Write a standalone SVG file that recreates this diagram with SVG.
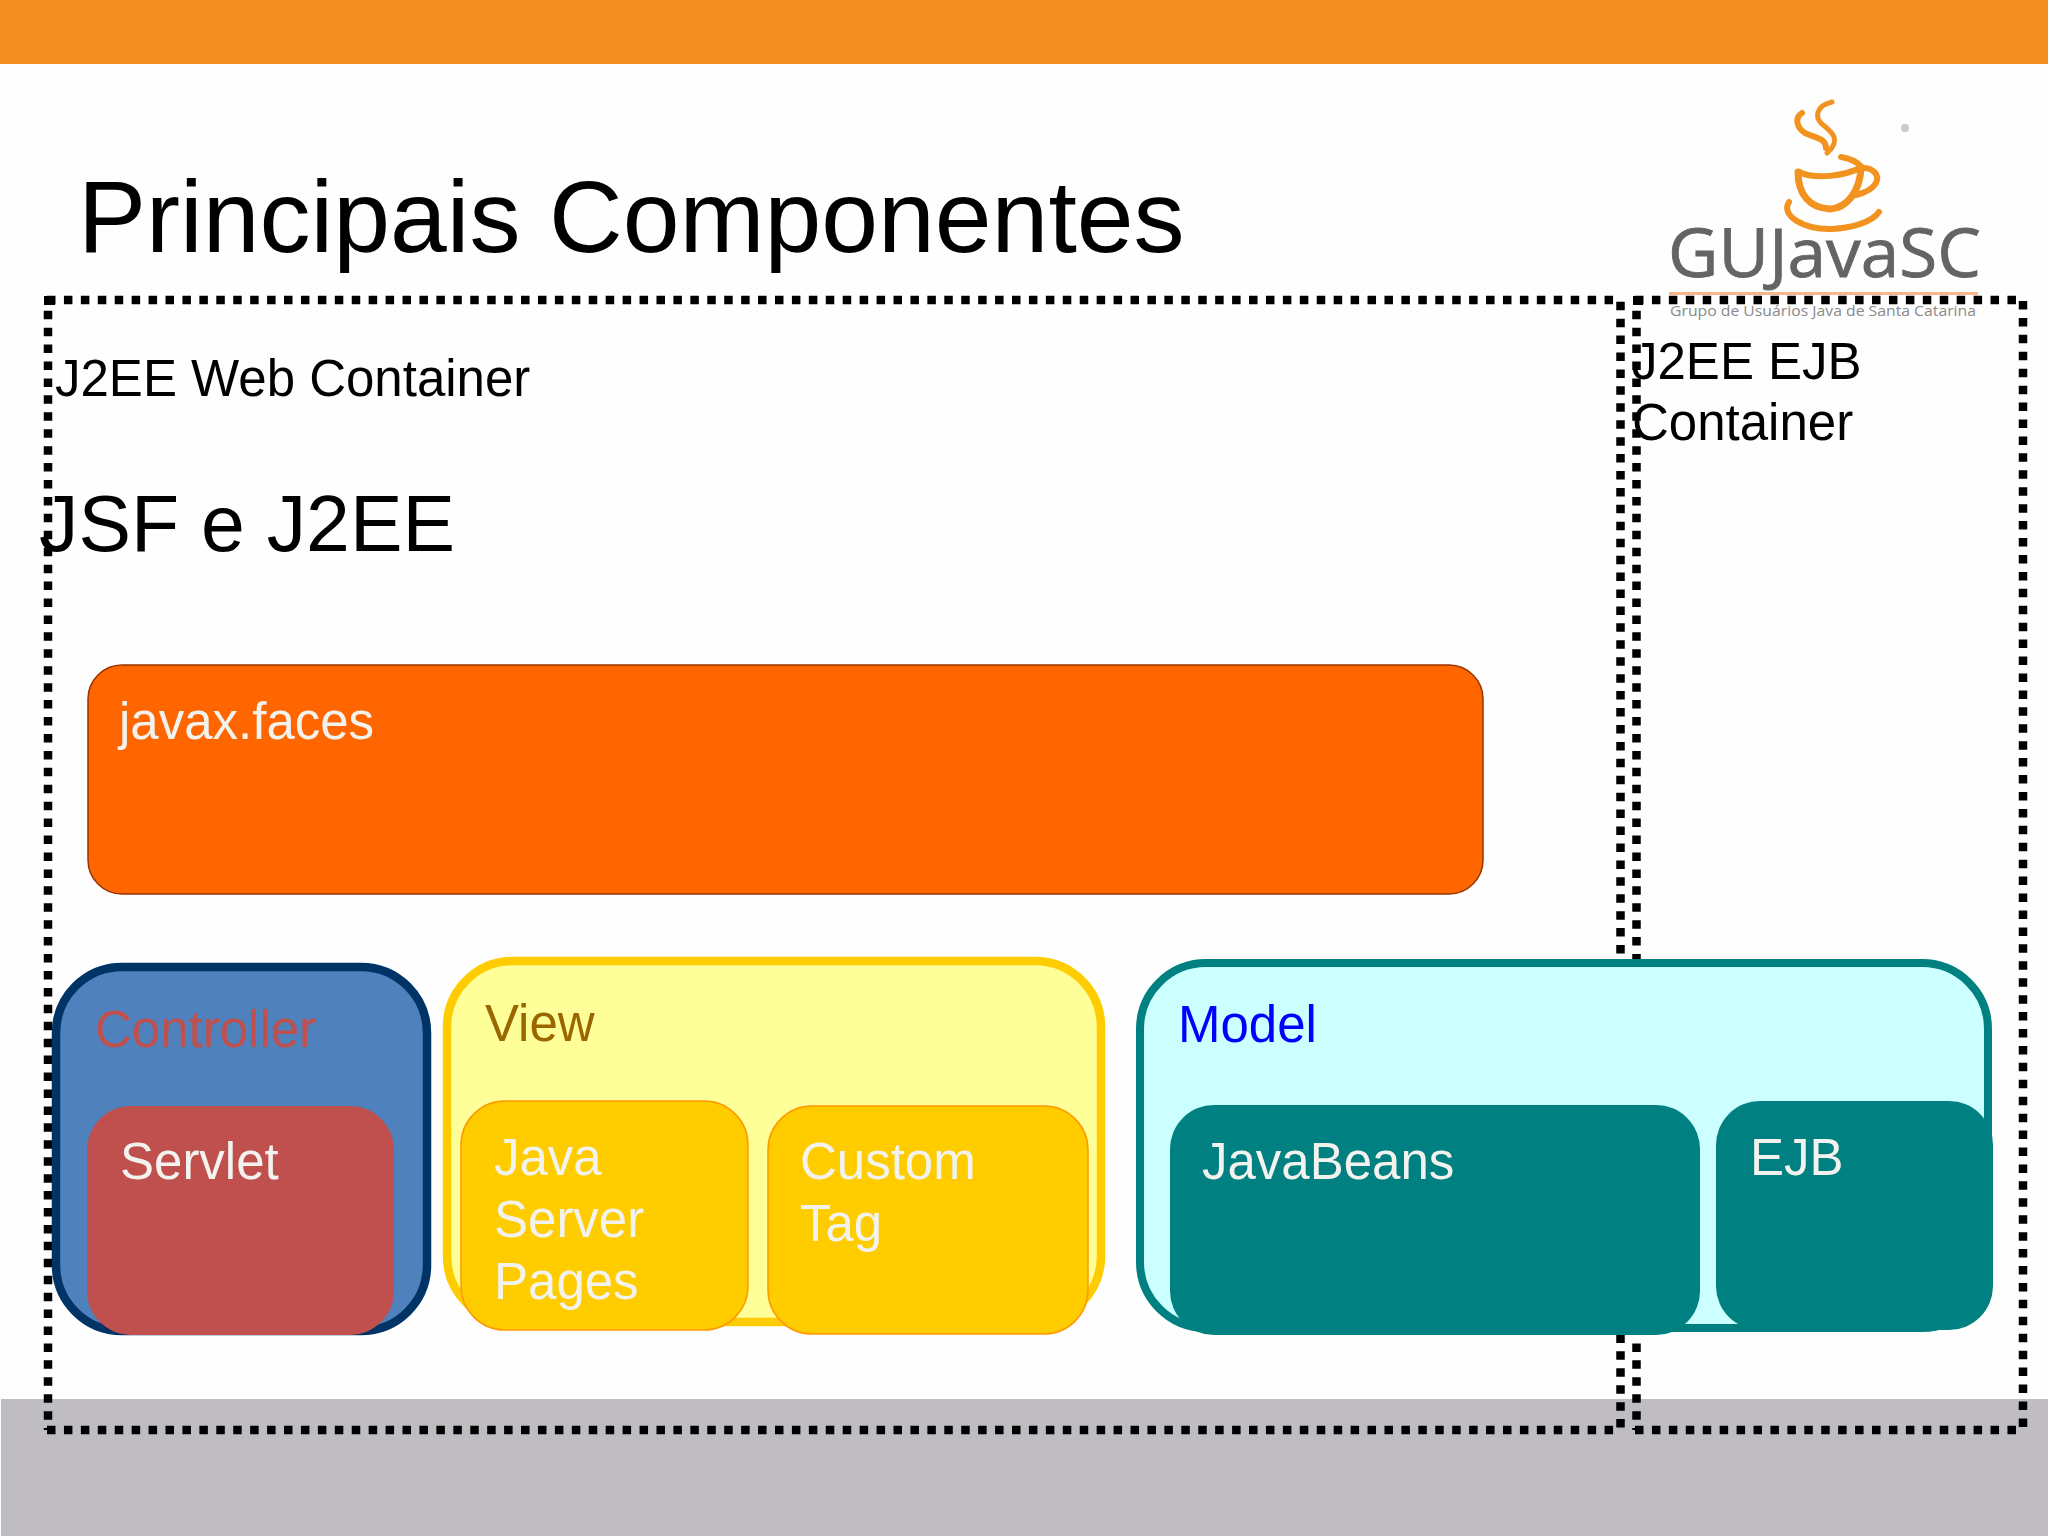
<svg xmlns="http://www.w3.org/2000/svg" width="2048" height="1536" viewBox="0 0 2048 1536">
<style>
text{font-family:"Liberation Sans",Arial,sans-serif}
.d{fill:none;stroke:#000;stroke-width:8.5;stroke-dasharray:8.5 8.43}
.l{font-size:51px;fill:#F2F2EE}
.h{font-size:51px;fill:#000}
.c{fill:none;stroke:#F2921F;stroke-linecap:round;stroke-linejoin:round}
</style>
<rect width="2048" height="1536" fill="#fefefe"/>
<rect id="top-bar" width="2048" height="64" fill="#F18D21"/>
<rect id="footer" x="1" y="1399" width="2047" height="137" fill="#BFBDC1"/>
<text id="title" x="78" y="252" font-size="102.1" fill="#000">Principais Componentes</text>
<g id="logo">
<path class="c" stroke-width="5" d="M1832,102C1815,106 1815,118 1822,124C1832,132 1842,140 1827,153"/>
<path class="c" stroke-width="6" d="M1802,113C1794,118 1797,128 1805,133C1815,138 1826,138 1826,148"/>
<path class="c" stroke-width="6" d="M1799,172C1815,180 1845,176 1862,167C1855,160 1848,158 1841,157"/>
<path class="c" stroke-width="7" d="M1798,172C1798,195 1810,208 1830,209C1848,208 1860,190 1861,168"/>
<path class="c" stroke-width="6" d="M1861,168C1873,167 1880,175 1876,183C1872,190 1864,193 1856,195"/>
<path class="c" stroke-width="6" d="M1789,202C1780,216 1805,230 1832,229C1852,228 1872,222 1879,212"/>
<circle cx="1905" cy="128" r="4" fill="#C8C8D0"/>
<text x="1668" y="277" font-size="68" fill="#636466" stroke="#636466" stroke-width="0.8" textLength="313" lengthAdjust="spacingAndGlyphs" style="font-family:'Open Sans',sans-serif">GUJavaSC</text>
<rect x="1669" y="292" width="309" height="3" fill="#F6B78C"/>
<text x="1670" y="316" font-size="14" fill="#8A8A8A" textLength="306" lengthAdjust="spacingAndGlyphs" style="font-family:'Open Sans',sans-serif">Grupo de Usuários Java de Santa Catarina</text>
</g>
<g id="web-container">
<path class="d" d="M47,300H1620M1620.5,301.7V1430M48,310.7V1430M47,1430H1620"/>
<rect x="44" y="296" width="11" height="9"/>
<text class="h" x="55" y="396">J2EE Web Container</text>
</g>
<g id="ejb-container">
<path class="d" d="M1635,300H2024M2023,301V1430M1636.5,310.7V1430M1635,1430H2024"/>
<rect x="1633" y="296" width="10" height="9"/>
<text class="h" x="1632" y="379">J2EE EJB</text>
<text class="h" x="1632" y="440">Container</text>
</g>
<text id="subtitle" x="39" y="551" font-size="78.8" fill="#000">JSF e J2EE</text>
<g id="javax-faces">
<rect x="88" y="665" width="1395" height="229" rx="34" fill="#FF6600" stroke="#993300" stroke-width="1.5"/>
<text class="l" x="119" y="739">javax.faces</text>
</g>
<g id="controller">
<rect x="56" y="967" width="371" height="364" rx="66" fill="#4F81BD" stroke="#003366" stroke-width="8.5"/>
<text x="95" y="1047" font-size="51" fill="#C0504D">Controller</text>
</g>
<g id="servlet">
<rect x="87" y="1106" width="307" height="229" rx="44" fill="#C0504D"/>
<text class="l" x="120" y="1179">Servlet</text>
</g>
<g id="view">
<rect x="447" y="961" width="654" height="361" rx="66" fill="#FFFF99" stroke="#FFCC00" stroke-width="8.5"/>
<text x="485" y="1041" font-size="51" fill="#996600">View</text>
</g>
<g id="jsp">
<rect x="461" y="1101" width="287" height="229" rx="44" fill="#FFCC00" stroke="#FF9900" stroke-width="1.5"/>
<text class="l" x="494" y="1175">Java</text>
<text class="l" x="494" y="1237">Server</text>
<text class="l" x="494" y="1299">Pages</text>
</g>
<g id="custom-tag">
<rect x="768" y="1106" width="320" height="228" rx="44" fill="#FFCC00" stroke="#FF9900" stroke-width="1.5"/>
<text class="l" x="800" y="1179">Custom</text>
<text class="l" x="800" y="1241">Tag</text>
</g>
<g id="model">
<rect x="1140" y="963" width="848" height="365" rx="66" fill="#CCFFFF" stroke="#008080" stroke-width="8"/>
<text x="1178" y="1042" font-size="51" fill="#0000FF">Model</text>
</g>
<g id="javabeans">
<rect x="1170" y="1105" width="530" height="230" rx="44" fill="#008080"/>
<text class="l" x="1202" y="1179">JavaBeans</text>
</g>
<g id="ejb">
<rect x="1716" y="1101" width="277" height="229" rx="44" fill="#008080"/>
<text class="l" x="1750" y="1175">EJB</text>
</g>
</svg>
